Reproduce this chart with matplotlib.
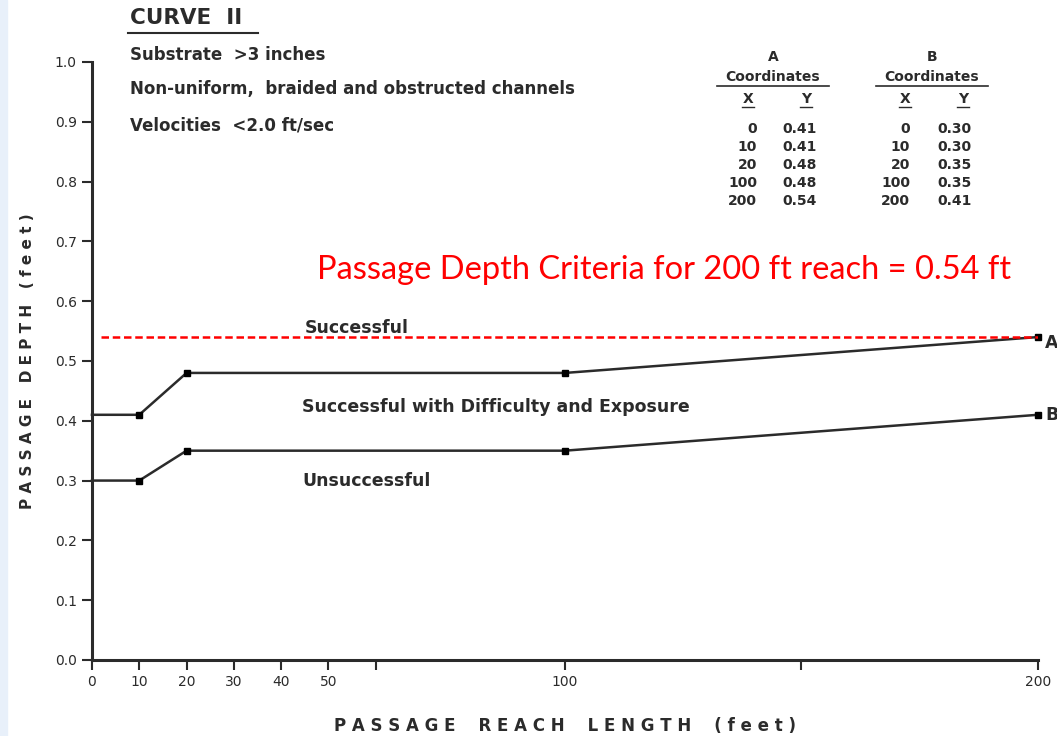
import matplotlib.pyplot as plt
from matplotlib.patches import Rectangle

# curve coordinates (from the table on the chart)
reach_x = [0, 10, 20, 100, 200]
depth_a = [0.41, 0.41, 0.48, 0.48, 0.54]
depth_b = [0.30, 0.30, 0.35, 0.35, 0.41]
criteria = 0.54

x_ticks = [0, 10, 20, 30, 40, 50, 60, 100, 150, 200]
x_tick_labels = ['0', '10', '20', '30', '40', '50', '', '100', '', '200']
y_ticks = [0.0, 0.1, 0.2, 0.3, 0.4, 0.5, 0.6, 0.7, 0.8, 0.9, 1.0]
y_tick_labels = ['0.0', '0.1', '0.2', '0.3', '0.4', '0.5', '0.6', '0.7', '0.8', '0.9', '1.0']

ink = '#2b2b2b'
plt.rcParams['font.family'] = ['DejaVu Sans']

fig = plt.figure(figsize=(10.57, 7.36), dpi=100)
fig.patches.append(Rectangle((0, 0), 0.007, 1, transform=fig.transFigure,
                             color='#e8f0fa', zorder=0))
ax = fig.add_axes([0.087, 0.1033, 0.895, 0.8125])

# curves A and B
for depth in (depth_a, depth_b):
    ax.plot(reach_x, depth, color=ink, lw=1.8, zorder=3, clip_on=False)
    ax.plot(reach_x[1:], depth[1:], 's', color='black', ms=4.5, zorder=4, clip_on=False)

ax.plot([2, 200], [criteria, criteria], color='red', ls=(0, (3, 1.5)), lw=1.8, zorder=5)

ax.set_xlim(0, 200)
ax.set_ylim(0, 1.0)
ax.set_xticks(x_ticks)
ax.set_xticklabels(x_tick_labels)
ax.set_yticks(y_ticks)
ax.set_yticklabels(y_tick_labels)
ax.tick_params(axis='both', direction='out', length=7, width=1.5, color=ink,
               labelsize=10, labelcolor=ink, pad=4)
for side in ('top', 'right'):
    ax.spines[side].set_visible(False)
for side in ('left', 'bottom'):
    ax.spines[side].set_linewidth(2.2)
    ax.spines[side].set_color(ink)

ax.set_xlabel('P A S S A G E    R E A C H    L E N G T H    ( f e e t )',
              fontsize=12, fontweight='bold', color=ink, labelpad=20)
ax.set_ylabel('P A S S A G E   D E P T H   ( f e e t )',
              fontsize=11, fontweight='bold', color=ink, labelpad=14)

# region labels
txt = dict(fontsize=12.5, fontweight='bold', color=ink)
ax.text(45, 0.555, 'Successful', va='center', **txt)
ax.text(44.5, 0.423, 'Successful with Difficulty and Exposure', va='center', **txt)
ax.text(44.5, 0.30, 'Unsuccessful', va='center', **txt)
ax.text(201.5, depth_a[-1] - 0.01, 'A', va='center', **txt)
ax.text(201.5, depth_b[-1], 'B', va='center', **txt)

ax.text(121, 0.652, 'Passage Depth Criteria for 200 ft reach = 0.54 ft',
        ha='center', va='center', fontsize=23.5, color='red', family='Lato')

# header text
fig.text(130 / 1057, 1 - 18 / 736, 'CURVE  II', fontsize=15.5, fontweight='bold',
         color=ink, va='center')
fig.add_artist(plt.Line2D([128 / 1057, 258 / 1057], [1 - 33 / 736, 1 - 33 / 736],
                          color=ink, lw=1.5))
hdr = dict(fontsize=12, fontweight='bold', color=ink)
fig.text(130 / 1057, 1 - 55 / 736, 'Substrate  >3 inches', va='center', **hdr)
fig.text(130 / 1057, 1 - 89 / 736, 'Non-uniform,  braided and obstructed channels',
         va='center', **hdr)
fig.text(130 / 1057, 1 - 125 / 736, 'Velocities  <2.0 ft/sec', va='center', **hdr)

# coordinates tables
small = dict(fontsize=10, fontweight='bold', color=ink, va='center')
for name, depth, cx, xr, yl, xh, yh in (('A', depth_a, 773, 757, 782, 748, 806),
                                          ('B', depth_b, 932, 910, 937, 905, 963)):
    fig.text(cx / 1057, 1 - 57 / 736, name, ha='center', **small)
    fig.text(cx / 1057, 1 - 77 / 736, 'Coordinates', ha='center', **small)
    fig.add_artist(plt.Line2D([(cx - 56) / 1057, (cx + 56) / 1057],
                              [1 - 86 / 736, 1 - 86 / 736], color=ink, lw=1.2))
    fig.text(xh / 1057, 1 - 99 / 736, 'X', ha='center', **small)
    fig.text(yh / 1057, 1 - 99 / 736, 'Y', ha='center', **small)
    for xh2 in (xh, yh):
        fig.add_artist(plt.Line2D([(xh2 - 6) / 1057, (xh2 + 6) / 1057],
                                  [1 - 107 / 736, 1 - 107 / 736], color=ink, lw=1))
    for i, (xv, yv) in enumerate(zip(reach_x, depth)):
        yy = 1 - (129 + 18 * i) / 736
        fig.text(xr / 1057, yy, str(xv), ha='right', **small)
        fig.text(yl / 1057, yy, f'{yv:.2f}', ha='left', **small)

fig.savefig('out.png', dpi=100)
